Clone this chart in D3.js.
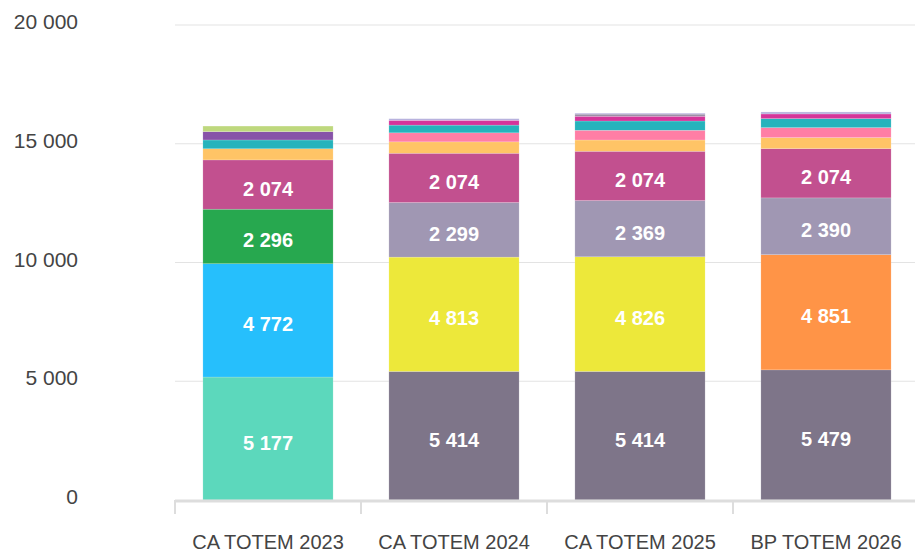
<!DOCTYPE html>
<html>
<head>
<meta charset="utf-8">
<script src="https://cdn.jsdelivr.net/npm/d3@7"></script>
<style>
  body { margin: 0; background: #fff; }
  svg { display: block; font-family: "Liberation Sans", Arial, sans-serif; }
</style>
</head>
<body>
<svg id="chart" width="915" height="552"></svg>
<script>
// categories and values
const categories = ["CA TOTEM 2023", "CA TOTEM 2024", "CA TOTEM 2025", "BP TOTEM 2026"];
const yTicks = [0, 5000, 10000, 15000, 20000];

// stacked series, bottom to top
const seriesNames = ["s1", "s2", "s3", "s4", "s5", "s6", "s7", "s8", "s9", "s10", "s11", "s12", "s13", "s14", "s15", "s16"];
const seriesColors = ["#5CD8BC", "#7E7589", "#26BFFC", "#EDE83A", "#FF9447", "#27A84F", "#A097B3", "#C2508F",
                      "#FFC466", "#FF7EA5", "#26B3BC", "#8753A8", "#BED87D", "#D5359A", "#9C8FA8", "#B8B2DE"];
const s1  = [5177, 0, 0, 0];
const s2  = [0, 5414, 5414, 5479];
const s3  = [4772, 0, 0, 0];
const s4  = [0, 4813, 4826, 0];
const s5  = [0, 0, 0, 4851];
const s6  = [2296, 0, 0, 0];
const s7  = [0, 2299, 2369, 2390];
const s8  = [2074, 2074, 2074, 2074];
const s9  = [470, 480, 475, 465];
const s10 = [0, 380, 410, 420];
const s11 = [370, 325, 390, 380];
const s12 = [350, 0, 0, 0];
const s13 = [235, 0, 0, 0];
const s14 = [0, 200, 200, 195];
const s15 = [0, 0, 90, 0];
const s16 = [0, 70, 40, 85];
const seriesValues = [s1, s2, s3, s4, s5, s6, s7, s8, s9, s10, s11, s12, s13, s14, s15, s16];

const margin = { top: 25, right: 0, bottom: 52, left: 175 };
const width = 915, height = 552;
const svg = d3.select("#chart");

const rows = categories.map((c, i) => {
    const r = { cat: c };
    seriesNames.forEach((s, j) => { r[s] = seriesValues[j][i]; });
    return r;
});
const stacked = d3.stack().keys(seriesNames)(rows);

const x = d3.scaleBand().domain(categories)
    .range([margin.left, 919])
    .paddingInner(0.3).paddingOuter(0.15);
const y = d3.scaleLinear().domain([0, 20000]).range([height - margin.bottom, margin.top]);

const fmt = v => d3.format(",")(v).replace(/,/g, " ");

// gridlines
svg.append("g").selectAll("line")
    .data(yTicks.filter(d => d > 0))
    .join("line")
    .attr("x1", margin.left).attr("x2", width)
    .attr("y1", d => y(d)).attr("y2", d => y(d))
    .attr("stroke", "#e3e3e3").attr("stroke-width", 1);

// y labels
svg.append("g").selectAll("text")
    .data(yTicks)
    .join("text")
    .attr("x", 78).attr("y", d => y(d) + 4)
    .attr("text-anchor", "end")
    .attr("fill", "#444")
    .style("font-size", "21px")
    .text(fmt);

// bars
const layers = svg.append("g").selectAll("g")
    .data(stacked)
    .join("g")
    .attr("fill", (d, i) => seriesColors[i]);

layers.selectAll("rect")
    .data(d => d.map(p => ({ p: p, cat: p.data.cat })))
    .join("rect")
    .attr("x", d => x(d.cat))
    .attr("width", x.bandwidth())
    .attr("y", d => y(d.p[1]))
    .attr("height", d => Math.max(0, y(d.p[0]) - y(d.p[1])))
    .attr("stroke", "#fff").attr("stroke-opacity", 0.35).attr("stroke-width", 0.5);

// value labels on big segments
layers.selectAll("text")
    .data(d => d.map(p => ({ p: p, cat: p.data.cat, v: p[1] - p[0] })).filter(d => d.v > 1000))
    .join("text")
    .attr("x", d => x(d.cat) + x.bandwidth() / 2)
    .attr("y", d => (y(d.p[0]) + y(d.p[1])) / 2 + 11)
    .attr("text-anchor", "middle")
    .attr("fill", "#fff")
    .style("font-size", "20px")
    .style("font-weight", "bold")
    .text(d => fmt(d.v));

// x axis line and ticks
const base = y(0);
svg.append("line")
    .attr("x1", margin.left).attr("x2", width)
    .attr("y1", base + 1).attr("y2", base + 1)
    .attr("stroke", "#ddd").attr("stroke-width", 3);

const edges = categories.map(c => x(c) - x.step() * x.paddingInner() / 2);
svg.append("g").selectAll("line")
    .data(edges)
    .join("line")
    .attr("x1", d => d).attr("x2", d => d)
    .attr("y1", base).attr("y2", base + 14)
    .attr("stroke", "#ddd").attr("stroke-width", 2);

svg.append("g").selectAll("text")
    .data(categories)
    .join("text")
    .attr("x", d => x(d) + x.bandwidth() / 2)
    .attr("y", 549)
    .attr("text-anchor", "middle")
    .attr("fill", "#444")
    .style("font-size", "20px")
    .text(d => d);
</script>
</body>
</html>
